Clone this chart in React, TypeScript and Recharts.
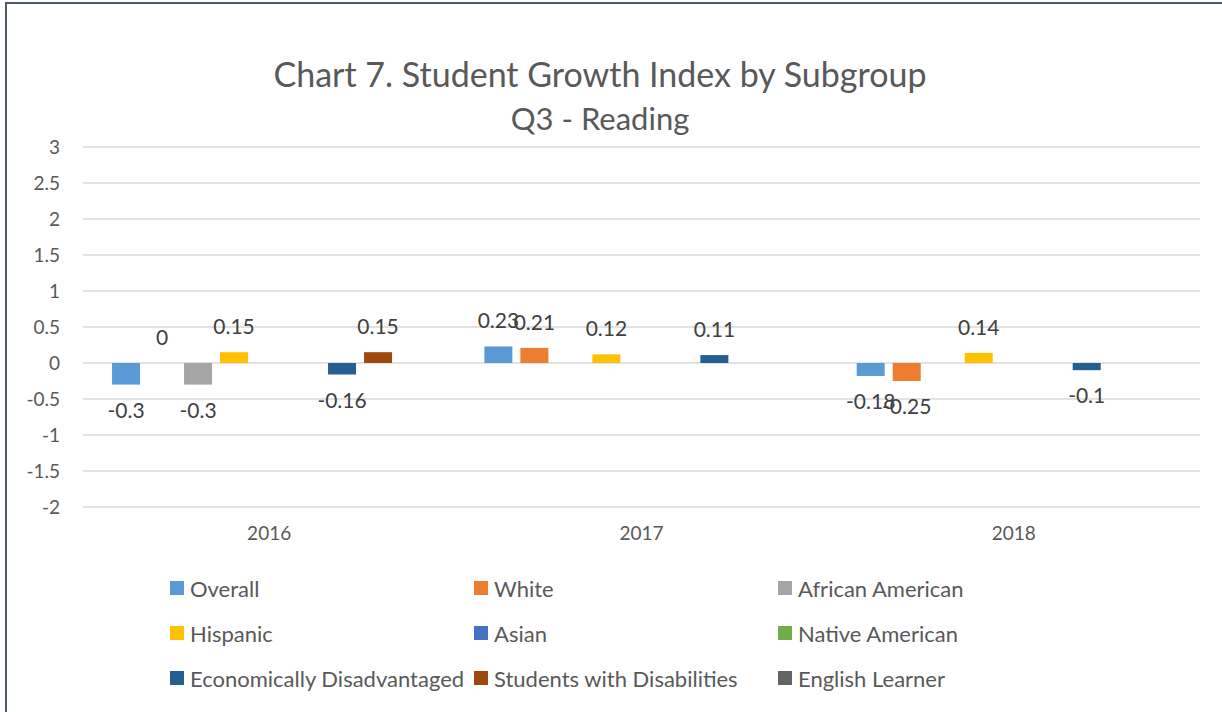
import React from "react";
import { BarChart, Bar, XAxis, YAxis, CartesianGrid } from "recharts";

const years = ["2016", "2017", "2018"];
const overall = [-0.3, 0.23, -0.18];
const white = [0, 0.21, -0.25];
const africanAmerican = [-0.3, null, null];
const hispanic = [0.15, 0.12, 0.14];
const asian = [null, null, null];
const nativeAmerican = [null, null, null];
const econDisadvantaged = [-0.16, 0.11, -0.1];
const disabilities = [0.15, null, null];
const englishLearner = [null, null, null];
const yTicks = [-2, -1.5, -1, -0.5, 0, 0.5, 1, 1.5, 2, 2.5, 3];

const series = [
  { key: "overall", name: "Overall", color: "#5B9BD5", values: overall },
  { key: "white", name: "White", color: "#ED7D31", values: white },
  { key: "aa", name: "African American", color: "#A5A5A5", values: africanAmerican },
  { key: "hispanic", name: "Hispanic", color: "#FFC000", values: hispanic },
  { key: "asian", name: "Asian", color: "#4472C4", values: asian },
  { key: "na", name: "Native American", color: "#70AD47", values: nativeAmerican },
  { key: "econ", name: "Economically Disadvantaged", color: "#255E91", values: econDisadvantaged },
  { key: "swd", name: "Students with Disabilities", color: "#9E480E", values: disabilities },
  { key: "el", name: "English Learner", color: "#636363", values: englishLearner },
];

const data = years.map((y, i) => {
  const row: Record<string, any> = { year: y };
  series.forEach((s) => {
    row[s.key] = s.values[i];
  });
  return row;
});

const FONT = "Lato, 'Open Sans', sans-serif";

const makeShape = (key: string, color: string) => (props: any) => {
  const { x, y, width, height, payload } = props;
  const value = payload ? payload[key] : null;
  if (value === null || value === undefined || !isFinite(x) || !isFinite(y)) return <g />;
  const h = isFinite(height) ? height : 0;
  const top = Math.min(y, y + h);
  const bottom = Math.max(y, y + h);
  const cx = x + width / 2;
  const ty = value < 0 ? bottom + 33 : top - 18;
  return (
    <g>
      {bottom - top > 0 && <rect x={x} y={top} width={width} height={bottom - top} fill={color} />}
      <text x={cx} y={ty} textAnchor="middle" fill="#404040" fontSize={21} fontFamily={FONT}>
        {String(value)}
      </text>
    </g>
  );
};

export default function App() {
  return (
    <div style={{ position: "fixed", left: 0, top: 0, width: 1222, height: 712, background: "#fff", overflow: "hidden", fontFamily: FONT }}>
      <div style={{ position: "absolute", left: 5, top: 2, width: 1400, height: 900, borderLeft: "2px solid #4A5A72", borderTop: "2px solid #4A5A72" }} />
      <div style={{ position: "absolute", left: 0, top: 51, width: 1200, textAlign: "center", color: "#595959", fontSize: 34, lineHeight: "45px" }}>
        <div>Chart 7. Student Growth Index by Subgroup</div>
        <div style={{ fontSize: 31 }}>Q3 - Reading</div>
      </div>
      <div style={{ position: "absolute", left: 0, top: 0 }}>
        <BarChart width={1222} height={712} data={data} margin={{ top: 147, right: 22, bottom: 165, left: 0 }} barCategoryGap="7.8%" barGap={8}>
          <CartesianGrid vertical={false} stroke="#D9D9D9" strokeWidth={1.5} />
          <XAxis dataKey="year" axisLine={false} tickLine={false} height={40} tickMargin={14} tick={{ fill: "#595959", fontSize: 19, fontFamily: FONT }} />
          <YAxis domain={[-2, 3]} ticks={yTicks} interval={0} width={83} axisLine={false} tickLine={false} tickMargin={17} tick={{ fill: "#595959", fontSize: 19, fontFamily: FONT }} />
          {series.map((s) => (
            <Bar key={s.key} dataKey={s.key} name={s.name} fill={s.color} isAnimationActive={false} shape={makeShape(s.key, s.color)} />
          ))}
        </BarChart>
      </div>
      {series.map((s, i) => {
        const col = i % 3;
        const row = Math.floor(i / 3);
        return (
          <div key={s.key} style={{ position: "absolute", left: 170 + col * 304, top: 575 + row * 45, height: 26, display: "flex", alignItems: "center", color: "#595959", fontSize: 22, whiteSpace: "nowrap" }}>
            <span style={{ display: "inline-block", width: 14, height: 14, background: s.color, marginRight: 6 }} />
            <span>{s.name}</span>
          </div>
        );
      })}
    </div>
  );
}
